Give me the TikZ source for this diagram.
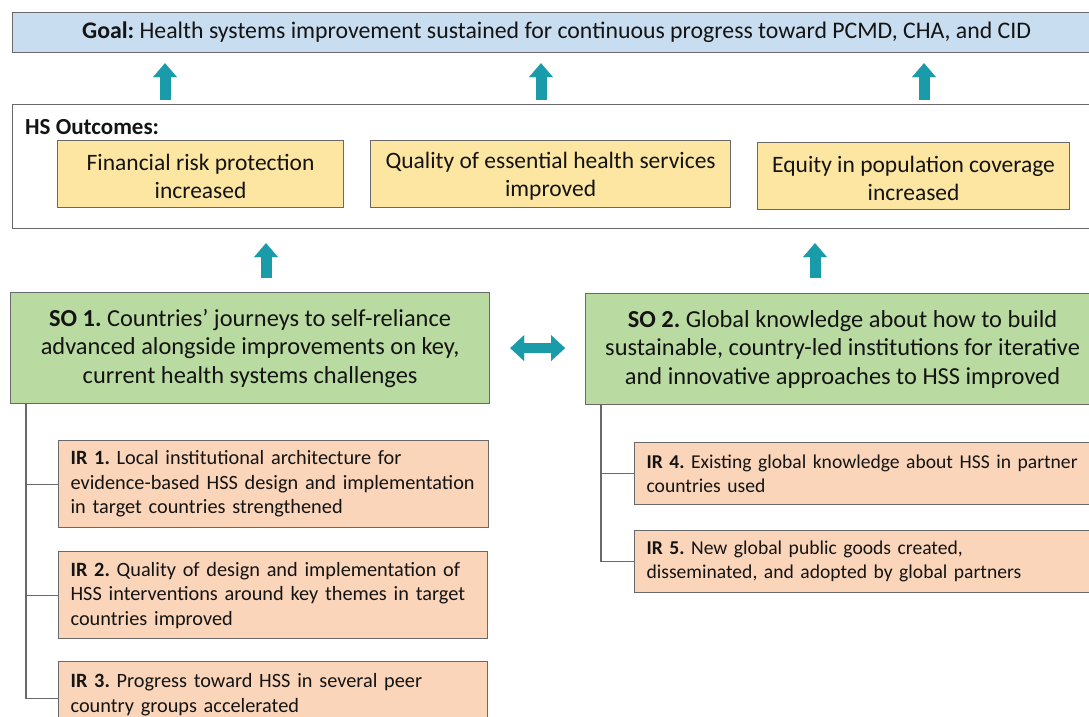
\documentclass[tikz,border=0pt]{standalone}
\usepackage{fontspec}
\setmainfont{Carlito}
\usetikzlibrary{arrows.meta}
\definecolor{goalfill}{RGB}{200,221,240}
\definecolor{yelfill}{RGB}{252,230,162}
\definecolor{grnfill}{RGB}{185,218,160}
\definecolor{salfill}{RGB}{250,213,186}
\definecolor{tealc}{RGB}{26,155,170}
\definecolor{boxline}{RGB}{105,105,105}
\definecolor{txt}{RGB}{20,20,20}
\newcommand{\upstrut}{\rule{0pt}{21pt}}
\begin{document}
\frenchspacing
\begin{tikzpicture}[x=1pt,y=-1pt,
  box/.style={draw=boxline, line width=1.2pt, anchor=north west, inner sep=0pt, text=txt},
  goalbox/.style={box, fill=goalfill, minimum width=1100pt, minimum height=40pt, font=\fontsize{23.8}{27}\selectfont},
  hsbox/.style={box, fill=white, minimum width=1100pt, minimum height=124pt},
  outbox/.style={box, fill=yelfill, minimum height=67pt, align=center, font=\fontsize{23.5}{28}\selectfont},
  sobox/.style={box, fill=grnfill, minimum height=111pt, align=center, font=\fontsize{24.4}{28.5}\selectfont},
  irbox/.style={box, fill=salfill, align=left, inner xsep=12pt, font=\fontsize{20.3}{24.5}\selectfont},
  irboxr/.style={irbox, font=\fontsize{19.6}{24.5}\selectfont},
  uparrow/.style={draw=tealc, line width=11pt, -{Triangle[width=24pt,length=14pt,line width=0.1pt]}, tealc},
  dblarrow/.style={draw=tealc, line width=10pt, {Triangle[width=26pt,length=14pt,line width=0.1pt]}-{Triangle[width=26pt,length=14pt,line width=0.1pt]}, tealc},
  conn/.style={draw=boxline, line width=1.2pt}
]
\useasboundingbox (0,0) rectangle (1089,717);
\clip (0,0) rectangle (1089,717);

% top
\node[goalbox] (goal) at (12,12) {\hspace*{-12pt}\textbf{Goal:} Health systems improvement sustained for continuous progress toward PCMD, CHA, and CID};
\node[hsbox] (hs) at (12,104) {};
\node[anchor=west, inner sep=0pt, font=\bfseries\fontsize{23}{26}\selectfont, text=txt] (hslab) at (25,127) {HS Outcomes:};

\node[outbox, minimum width=286pt] (o1) at (57,140) {\upstrut Financial risk protection\\increased};
\node[outbox, minimum width=360pt] (o2) at (370,140) {\upstrut Quality of essential health services\\improved};
\node[outbox, minimum width=312pt] (o3) at (757,142) {\upstrut Equity in population coverage\\increased};

\coordinate (a1) at (165,0);
\coordinate (a2) at (541,0);
\coordinate (a3) at (924,0);
\draw[uparrow, shorten <=4pt, shorten >=10pt] (hs.north -| a1) -- (goal.south -| a1);
\draw[uparrow, shorten <=4pt, shorten >=10pt] (hs.north -| a2) -- (goal.south -| a2);
\draw[uparrow, shorten <=4pt, shorten >=10pt] (hs.north -| a3) -- (goal.south -| a3);

% SO boxes
\node[sobox, minimum width=479pt] (so1) at (10,292) {\textbf{SO 1.} Countries’ journeys to self-reliance\\advanced alongside improvements on key,\\current health systems challenges};
\node[sobox, minimum width=514pt] (so2) at (585,293) {\textbf{SO 2.} Global knowledge about how to build\\sustainable, country-led institutions for iterative\\and innovative approaches to HSS improved};

\coordinate (b1) at (266,0);
\coordinate (b2) at (815,0);
\draw[uparrow, shorten <=14pt, shorten >=14pt] (so1.north -| b1) -- (hs.south -| b1);
\draw[uparrow, shorten <=15pt, shorten >=14pt] (so2.north -| b2) -- (hs.south -| b2);

\draw[dblarrow, shorten <=20pt, shorten >=20pt] (so1.east) -- (so2.west |- so1.east);

% IR boxes
\node[irbox, text width=406pt, minimum height=87pt] (ir1) at (58,440) {\textbf{IR 1.} Local institutional architecture for\\evidence-based HSS design and implementation\\in target countries strengthened};
\node[irbox, text width=405pt, minimum height=87pt] (ir2) at (58,551) {\textbf{IR 2.} Quality of design and implementation of\\HSS interventions around key themes in target\\countries improved};
\node[irbox, text width=405pt, minimum height=66pt] (ir3) at (58,661) {\textbf{IR 3.} Progress toward HSS in several peer\\country groups accelerated};
\node[irboxr, text width=450pt, minimum height=62pt] (ir4) at (634,442) {\textbf{IR 4.} Existing global knowledge about HSS in partner\\countries used};
\node[irboxr, text width=450pt, minimum height=62pt] (ir5) at (634,530) {\textbf{IR 5.} New global public goods created,\\disseminated, and adopted by global partners};

\coordinate (t1) at (26,0);
\coordinate (t2) at (601,0);
\draw[conn] (so1.south -| t1) |- (ir1.west);
\draw[conn] (so1.south -| t1) |- (ir2.west);
\draw[conn] (so1.south -| t1) |- ([yshift=-4pt]ir3.west);
\draw[conn] (so2.south -| t2) |- (ir4.west);
\draw[conn] (so2.south -| t2) |- (ir5.west);
\end{tikzpicture}
\end{document}
